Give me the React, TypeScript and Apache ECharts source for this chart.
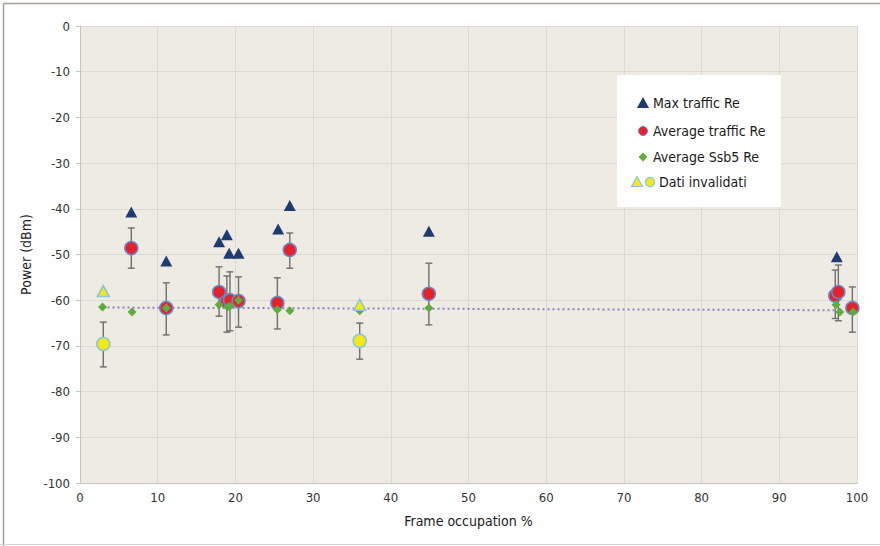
import React, { useEffect, useRef } from "react";
import * as echarts from "echarts";

// Frame occupation % (x) and power in dBm (y)
const maxTrafficX = [6.6, 11.1, 17.9, 18.9, 19.2, 20.4, 25.5, 27.0, 44.9, 97.4];
const maxTrafficY = [-40.7, -51.4, -47.2, -45.7, -49.7, -49.7, -44.4, -39.3, -44.9, -50.5];

const avgTrafficX = [6.6, 11.1, 17.9, 18.9, 19.3, 20.4, 25.4, 27.0, 44.9, 97.2, 97.6, 99.4];
const avgTrafficY = [-48.6, -61.7, -58.2, -60.3, -60.0, -60.2, -60.6, -49.0, -58.6, -59.0, -58.2, -61.7];
const avgTrafficLow = [-53.0, -67.6, -63.5, -67.0, -66.7, -65.9, -66.3, -53.0, -65.4, -64.0, -64.5, -67.0];
const avgTrafficHigh = [-44.2, -56.2, -52.7, -54.7, -53.8, -54.9, -55.1, -45.3, -51.9, -53.4, -52.3, -57.1];

const ssb5X = [2.9, 6.7, 11.1, 17.9, 19.0, 19.3, 20.4, 25.4, 27.0, 36.0, 44.9, 97.3, 97.8, 99.5];
const ssb5Y = [-61.5, -62.6, -61.7, -61.0, -61.5, -61.3, -60.0, -62.1, -62.3, -62.3, -61.7, -61.0, -62.6, -62.6];

const invalidTriX = [3.0, 36.0];
const invalidTriY = [-58.0, -61.0];
const invalidCircX = [3.0, 36.0];
const invalidCircY = [-69.6, -68.9];
const invalidCircLow = [-74.6, -72.9];
const invalidCircHigh = [-64.8, -65.0];

const trendX = [2.9, 97.5];
const trendY = [-61.6, -62.2];

const xTicks = { min: 0, max: 100, interval: 10 };
const yTicks = { min: -100, max: 0, interval: 10 };

const FONT = "'Liberation Sans Narrow', 'DejaVu Sans Condensed', 'Roboto', sans-serif";

const zip = (xs: number[], ys: number[]) => xs.map((x, i) => [x, ys[i]]);

export default function App() {
  const ref = useRef<HTMLDivElement>(null);
  useEffect(() => {
    if (!ref.current) return;
    const chart = echarts.init(ref.current, null, { renderer: "svg" });

    const errData = [
      ...avgTrafficX.map((x, i) => [x, avgTrafficLow[i], avgTrafficHigh[i]]),
      ...invalidCircX.map((x, i) => [x, invalidCircLow[i], invalidCircHigh[i]]),
    ];

    const legendX = 643;
    const legendRows = [103, 131, 157, 182];
    const legendText = (y: number, x: number, text: string) => ({
      type: "text",
      x,
      y,
      z: 12,
      style: { text, fill: "#1a1a1a", fontSize: 14, fontFamily: FONT, verticalAlign: "middle", align: "left" },
    });
    const tri = (cx: number, cy: number, s: number, fill: string, stroke?: string) => ({
      type: "polygon",
      z: 12,
      shape: { points: [[cx, cy - s * 0.55], [cx + s * 0.55, cy + s * 0.45], [cx - s * 0.55, cy + s * 0.45]] },
      style: { fill, stroke: stroke || "none", lineWidth: stroke ? 1.2 : 0 },
    });

    chart.setOption({
      animation: false,
      textStyle: { fontFamily: FONT },
      grid: { left: 80, right: 23, top: 26, bottom: 63, show: true, backgroundColor: "#eeece2", borderWidth: 0 },
      xAxis: {
        type: "value",
        min: xTicks.min,
        max: xTicks.max,
        interval: xTicks.interval,
        name: "Frame occupation %",
        nameLocation: "middle",
        nameGap: 31,
        nameTextStyle: { fontSize: 14, color: "#1a1a1a", fontFamily: FONT },
        axisLine: { show: true, onZero: false, lineStyle: { color: "#c3c3c3", width: 1 } },
        axisTick: { show: false },
        axisLabel: { fontSize: 13, color: "#333", margin: 8, fontFamily: FONT },
        splitLine: { show: true, lineStyle: { color: "#d9d9d6", width: 1 } },
      },
      yAxis: {
        type: "value",
        min: yTicks.min,
        max: yTicks.max,
        interval: yTicks.interval,
        name: "Power (dBm)",
        nameLocation: "middle",
        nameGap: 38,
        nameRotate: 90,
        nameTextStyle: { fontSize: 14, color: "#1a1a1a", fontFamily: FONT },
        axisLine: { show: true, onZero: false, lineStyle: { color: "#c3c3c3", width: 1 } },
        axisTick: { show: true, length: 4, lineStyle: { color: "#c3c3c3" } },
        axisLabel: { fontSize: 13, color: "#333", margin: 10, fontFamily: FONT },
        splitLine: { show: true, lineStyle: { color: "#d9d9d6", width: 1 } },
      },
      series: [
        {
          name: "Trend",
          type: "line",
          data: zip(trendX, trendY),
          symbol: "none",
          lineStyle: { color: "#8f80c4", width: 2, type: [2, 3] },
          z: 1,
        },
        {
          name: "Errors",
          type: "custom",
          data: errData,
          encode: { x: 0, y: [1, 2] },
          z: 2,
          renderItem: (params: any, api: any) => {
            const x = api.value(0);
            const lo = api.coord([x, api.value(1)]);
            const hi = api.coord([x, api.value(2)]);
            const w = 3.5;
            const style = { stroke: "#6e6e6e", lineWidth: 1.4 };
            return {
              type: "group",
              children: [
                { type: "line", shape: { x1: lo[0], y1: lo[1], x2: hi[0], y2: hi[1] }, style },
                { type: "line", shape: { x1: lo[0] - w, y1: lo[1], x2: lo[0] + w, y2: lo[1] }, style },
                { type: "line", shape: { x1: hi[0] - w, y1: hi[1], x2: hi[0] + w, y2: hi[1] }, style },
              ],
            };
          },
        },
        {
          name: "Average traffic Re",
          type: "scatter",
          data: zip(avgTrafficX, avgTrafficY),
          symbol: "circle",
          symbolSize: 13,
          itemStyle: { color: "#e5222a", borderColor: "#6b86c9", borderWidth: 1.5, opacity: 1 },
          z: 3,
        },
        {
          name: "Average Ssb5 Re",
          type: "scatter",
          data: zip(ssb5X, ssb5Y),
          symbol: "diamond",
          symbolSize: 9,
          itemStyle: { color: "#5fae3d", opacity: 1 },
          z: 4,
        },
        {
          name: "Max traffic Re",
          type: "scatter",
          data: zip(maxTrafficX, maxTrafficY),
          symbol: "triangle",
          symbolSize: [12, 11],
          itemStyle: { color: "#1e3b72", opacity: 1 },
          z: 4,
        },
        {
          name: "Dati invalidati",
          type: "scatter",
          data: zip(invalidCircX, invalidCircY),
          symbol: "circle",
          symbolSize: 13,
          itemStyle: { color: "#f4e917", borderColor: "#86c6e2", borderWidth: 1.5, opacity: 1 },
          z: 5,
        },
        {
          name: "Dati invalidati ",
          type: "scatter",
          data: zip(invalidTriX, invalidTriY),
          symbol: "triangle",
          symbolSize: [12, 11],
          itemStyle: { color: "#f4e917", borderColor: "#86c6e2", borderWidth: 1.5, opacity: 1 },
          z: 5,
        },
      ],
      graphic: [
        { type: "line", shape: { x1: 3.5, y1: 3.5, x2: 880, y2: 3.5 }, style: { stroke: "#a9a197", lineWidth: 1.5 } },
        { type: "line", shape: { x1: 3.5, y1: 3.5, x2: 3.5, y2: 546 }, style: { stroke: "#a9a197", lineWidth: 1.5 } },
        { type: "line", shape: { x1: 0, y1: 544.5, x2: 880, y2: 544.5 }, style: { stroke: "#d6d6d6", lineWidth: 1 } },
        { type: "rect", z: 11, shape: { x: 617, y: 75, width: 164, height: 132 }, style: { fill: "#ffffff" } },
        tri(legendX, legendRows[0], 11, "#1e3b72"),
        legendText(legendRows[0], 653, "Max traffic Re"),
        { type: "circle", z: 12, shape: { cx: legendX, cy: legendRows[1], r: 4.5 }, style: { fill: "#e5222a", stroke: "#6b86c9", lineWidth: 1 } },
        legendText(legendRows[1], 653, "Average traffic Re"),
        {
          type: "polygon",
          z: 12,
          shape: { points: [[legendX, legendRows[2] - 4.5], [legendX + 4.5, legendRows[2]], [legendX, legendRows[2] + 4.5], [legendX - 4.5, legendRows[2]]] },
          style: { fill: "#5fae3d" },
        },
        legendText(legendRows[2], 653, "Average Ssb5 Re"),
        tri(637, legendRows[3], 10, "#f4e917", "#86c6e2"),
        { type: "circle", z: 12, shape: { cx: 650, cy: legendRows[3], r: 4.5 }, style: { fill: "#f4e917", stroke: "#86c6e2", lineWidth: 1.2 } },
        legendText(legendRows[3], 659, "Dati invalidati"),
      ],
    });
    return () => chart.dispose();
  }, []);
  return <div ref={ref} style={{ position: "fixed", left: 0, top: 0, width: 880, height: 546, background: "#ffffff" }} />;
}
